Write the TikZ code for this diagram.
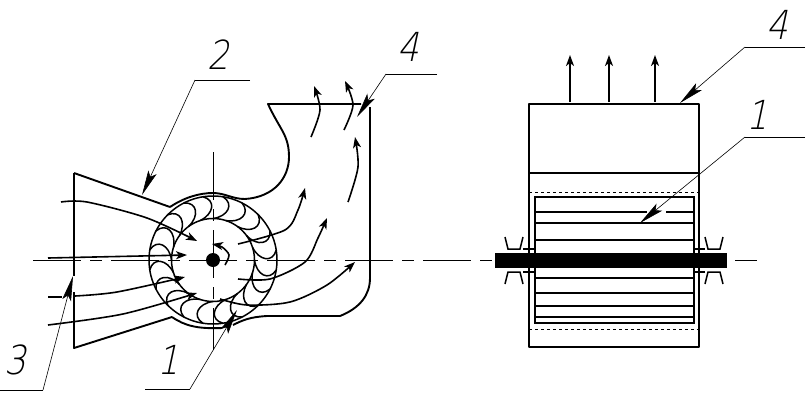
\documentclass[tikz,border=0pt]{standalone}
\usepackage{fontspec}
\usetikzlibrary{arrows.meta,positioning}
\newfontfamily\numberfont[FakeSlant=0.25]{DejaVu Sans ExtraLight}
\tikzset{
  body/.style={line width=1.9pt,line join=round},
  thin part/.style={line width=1.5pt},
  flow/.style={line width=1.6pt,-{Stealth[length=11pt,width=8pt,inset=3pt]}},
  leader/.style={line width=.6pt,-{Stealth[length=25pt,width=9pt,inset=5pt]}},
  shelf/.style={line width=.6pt},
  axis/.style={line width=.8pt,dash pattern=on 48pt off 9pt on 12pt off 9pt},
  number/.style={font=\numberfont\fontsize{40}{40}\selectfont,inner sep=0pt,xscale=.85},
}
\begin{document}
\begin{tikzpicture}[x=1pt,y=-1pt]
  \useasboundingbox (0,0) rectangle (806,402);
  % center lines
  \coordinate (axis west) at (33,260);
  \coordinate (axis east) at (757,260);
  \coordinate (axis top)  at (213,152);
  \coordinate (axis foot) at (213,350);
  \draw[axis] (axis west) -- (axis east);
  \draw[axis] (axis top) -- (axis foot);
  % rotor, side view
  \node[circle,draw,line width=1.5pt,minimum size=128pt,inner sep=0pt] (rotor) at (213,260) {};
  \node[circle,draw,line width=1.5pt,minimum size=83pt,inner sep=0pt]  (hub)   at (213,260) {};
  \node[circle,fill,minimum size=14pt,inner sep=0pt]                   (shaft) at (213,260) {};
  \begin{scope}[shift={(213,260)},y=1pt]
    \foreach \a in {0,18,...,350}
      \draw[thin part] (\a:41.5) .. controls (\a-19:46) and (\a-21:60) .. (\a-9:64);
  \end{scope}
  % casing
  \draw[body] (170,207) .. controls (185,197) and (200,193) .. (213,193)
    .. controls (225,193) and (232,199) .. (245,199)
    .. controls (275,197) and (289,177) .. (289,157)
    .. controls (289,135) and (280,130) .. (268,104) -- (361,104);
  \draw[body] (370,107) -- (370,278) .. controls (370,295) and (360,308) .. (340,316)
    -- (267,316) .. controls (250,317) and (243,320) .. (233,325);
  \draw[body] (74,173) -- (170,207);
  \draw[body] (74,173) -- (74,276);
  \draw[body] (74,292) -- (74,348) -- (172,317);
  \draw[body] (172,317) .. controls (185,326) and (198,329) .. (222,328);
  % air flow in
  \draw[flow] plot[smooth] coordinates {(61,202) (87,202) (147,218) (197,241)};
  \draw[flow] (48,258) -- (187,255);
  \draw[body] (48,297) -- (62,297);
  \draw[flow] plot[smooth] coordinates {(75,296) (117,292) (185,277)};
  \draw[flow] plot[smooth] coordinates {(48,325) (123,314) (197,293)};
  % air flow out
  \draw[flow] plot[smooth] coordinates {(238,244) (285,230) (298,210) (305,188)};
  \draw[flow] plot[smooth] coordinates {(238,279) (270,279) (305,262) (318,238) (327,218)};
  \draw[flow] plot[smooth] coordinates {(220,299) (247,305) (290,302) (327,285) (355,262)};
  \draw[flow] plot[smooth] coordinates {(311,137) (320,110) (314,86)};
  \draw[flow] plot[smooth] coordinates {(344,130) (353,105) (345,81)};
  \draw[flow] plot[smooth] coordinates {(348,202) (358,167) (355,137)};
  \draw[flow] plot[smooth] coordinates {(225,265) (229,255) (222,247) (212,244)};
  % front view
  \draw[body] (529,104) rectangle (699,347);
  \draw[body] (529,173) -- (699,173);
  \draw[line width=.8pt,dashed] (529,192) -- (699,192);
  \draw[line width=.8pt,dashed] (529,329) -- (699,329);
  \draw[thin part] (535,197) rectangle (694,323);
  \foreach \y in {223,240,278,293,306,317}
    \draw[thin part] (535,\y) -- (694,\y);
  \draw[thin part] (535,212) -- (647,212);
  \draw[thin part] (666,212) -- (694,212);
  \node[fill,minimum width=232pt,minimum height=15pt,inner sep=0pt] (front shaft) at (611,260.5) {};
  \foreach \x/\d in {514/1,714/-1} {
    \draw[thin part] (\x-9,237) -- (\x-6,249) -- (\x+6,249) -- (\x+9,237);
    \draw[thin part] (\x-9,284) -- (\x-6,272) -- (\x+6,272) -- (\x+9,284);
    \draw[line width=2.6pt] (\x+\d*9,249) -- (\x+\d*20,249);
    \draw[line width=2.6pt] (\x+\d*9,272) -- (\x+\d*20,272);
  }
  \foreach \x in {570,609,655}
    \draw[flow] (\x,102) -- (\x,55);
  % numbers
  \node[number] (two)        at (218,55)  {2};
  \node[number] (four left)  at (408,47)  {4};
  \node[number] (three)      at (15,360)  {3};
  \node[number] (one left)   at (168,360) {1};
  \node[number] (four right) at (777,25)  {4};
  \node[number] (one right)  at (757,115) {1};
  % leaders
  \coordinate (two end)    at (250,80);
  \coordinate (two knee)   at (195,80);
  \coordinate (two tip)    at (142,195);
  \draw[shelf] (two end) -- (two knee);
  \draw[leader] (two knee) -- (two tip);
  \coordinate (four end)   at (437,74);
  \coordinate (four knee)  at (386,74);
  \coordinate (four tip)   at (357,117);
  \draw[shelf] (four end) -- (four knee);
  \draw[leader] (four knee) -- (four tip);
  \coordinate (three end)  at (0,390);
  \coordinate (three knee) at (43,390);
  \coordinate (three tip)  at (73,276);
  \draw[shelf] (three end) -- (three knee);
  \draw[leader] (three knee) -- (three tip);
  \coordinate (one end)    at (145,389);
  \coordinate (one knee)   at (190,389);
  \coordinate (one tip)    at (237,310);
  \draw[shelf] (one end) -- (one knee);
  \draw[leader] (one knee) -- (one tip);
  \coordinate (top end)    at (805,47);
  \coordinate (top knee)   at (745,47);
  \coordinate (top tip)    at (680,103);
  \draw[shelf] (top end) -- (top knee);
  \draw[leader] (top knee) -- (top tip);
  \coordinate (core end)   at (805,137);
  \coordinate (core knee)  at (745,137);
  \coordinate (core tip)   at (640,223);
  \draw[shelf] (core end) -- (core knee);
  \draw[leader] (core knee) -- (core tip);
\end{tikzpicture}
\end{document}
